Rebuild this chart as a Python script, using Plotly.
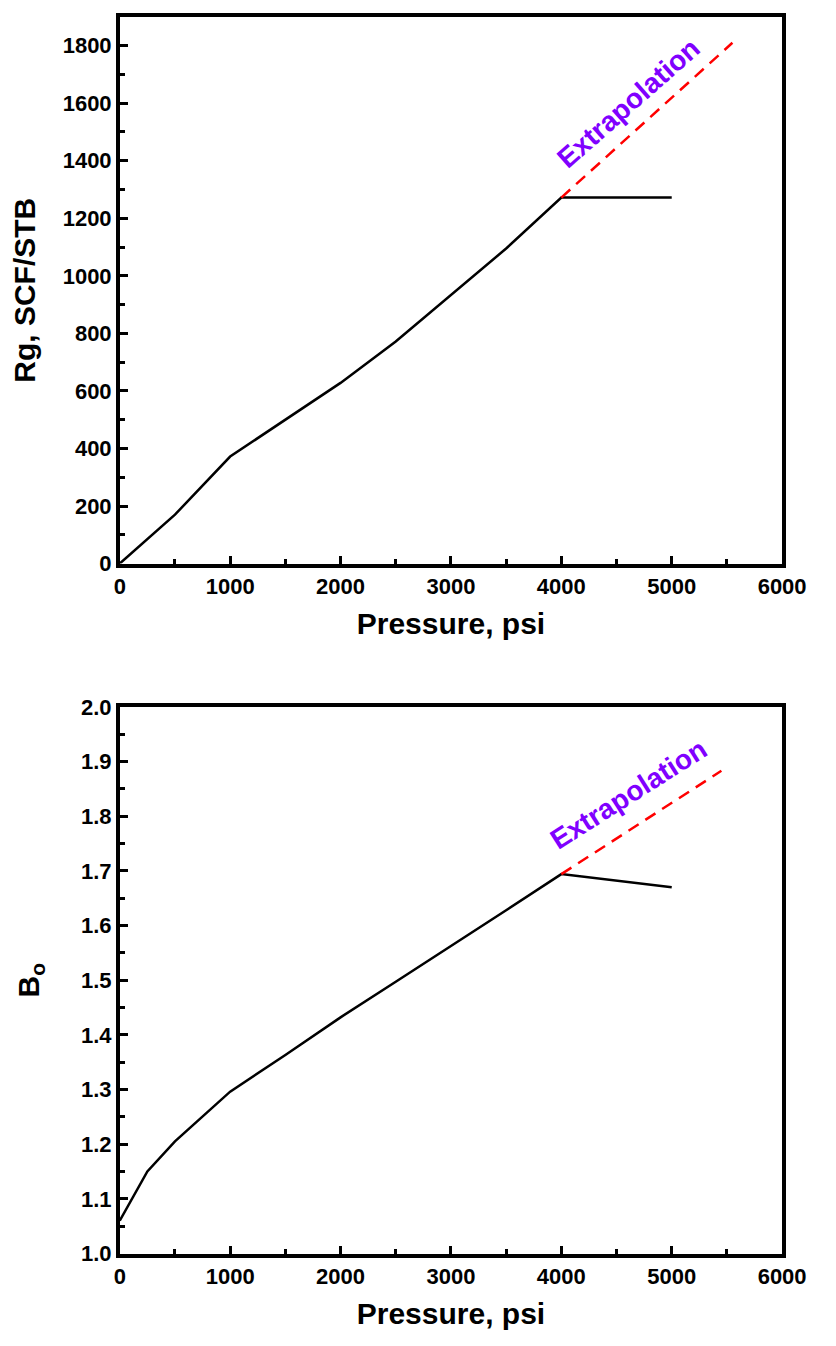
import plotly.graph_objects as go

# ---------------- data ----------------
pressure_rg = [0, 500, 1000, 1500, 2000, 2500, 3000, 3500, 4000, 5000]
rg_values = [0, 170, 372, 500, 628, 772, 932, 1095, 1272, 1272]
extrap_rg_pressure = [4000, 5550]
extrap_rg_values = [1272, 1810]

pressure_bo = [0, 250, 500, 1000, 1500, 2000, 2500, 3000, 3500, 4000, 5000]
bo_values = [1.060, 1.150, 1.205, 1.296, 1.363, 1.432, 1.497, 1.562, 1.628, 1.694, 1.670]
extrap_bo_pressure = [4000, 5450]
extrap_bo_values = [1.694, 1.883]

x_tick_vals = [0, 1000, 2000, 3000, 4000, 5000, 6000]
rg_tick_vals = [0, 200, 400, 600, 800, 1000, 1200, 1400, 1600, 1800]
bo_tick_vals = [1.0, 1.1, 1.2, 1.3, 1.4, 1.5, 1.6, 1.7, 1.8, 1.9, 2.0]

W, H = 836, 1346
FONT = "Liberation Sans, Arial, sans-serif"

def px_x(v):
    return v / W

def px_y(v):
    return 1 - v / H

fig = go.Figure()

fig.add_trace(go.Scatter(x=pressure_rg, y=rg_values, mode="lines",
                         line=dict(color="black", width=2.5),
                         xaxis="x", yaxis="y", showlegend=False))
fig.add_trace(go.Scatter(x=extrap_rg_pressure, y=extrap_rg_values, mode="lines",
                         line=dict(color="#FF0000", width=2.5, dash="12px,8px"),
                         xaxis="x", yaxis="y", showlegend=False))
fig.add_trace(go.Scatter(x=pressure_bo, y=bo_values, mode="lines",
                         line=dict(color="black", width=2.5),
                         xaxis="x2", yaxis="y2", showlegend=False))
fig.add_trace(go.Scatter(x=extrap_bo_pressure, y=extrap_bo_values, mode="lines",
                         line=dict(color="#FF0000", width=2.5, dash="12px,8px"),
                         xaxis="x2", yaxis="y2", showlegend=False))

tickfont = dict(family=FONT, size=22, color="black", weight="bold")
titlefont = dict(family=FONT, size=30, color="black", weight="bold")

common_x = dict(range=[0, 6000], tickvals=x_tick_vals, ticks="inside", ticklen=8,
                tickwidth=3, tickcolor="black", showline=True, linewidth=3.5,
                linecolor="black", mirror=True, showgrid=False, zeroline=False,
                tickfont=tickfont,
                minor=dict(dtick=500, ticks="inside", ticklen=5, tickwidth=3,
                           tickcolor="black", showgrid=False),
                domain=[px_x(118), px_x(805)])
common_y = dict(ticks="inside", ticklen=8, tickwidth=3, tickcolor="black",
                showline=True, linewidth=3.5, linecolor="black", mirror=True,
                showgrid=False, zeroline=False, tickfont=tickfont)

fig.update_layout(
    width=W, height=H,
    margin=dict(l=0, r=0, t=0, b=0),
    paper_bgcolor="white", plot_bgcolor="white",
    xaxis=dict(common_x, anchor="y",
               title=dict(text="Pressure, psi", font=titlefont, standoff=16)),
    yaxis=dict(common_y, range=[0, 1900], tickvals=rg_tick_vals,
               minor=dict(dtick=100, ticks="inside", ticklen=5, tickwidth=3,
                          tickcolor="black", showgrid=False),
               domain=[px_y(562), px_y(5)], anchor="x",
               title=dict(text="Rg, SCF/STB", font=titlefont, standoff=19)),
    xaxis2=dict(common_x, anchor="y2",
                title=dict(text="Pressure, psi", font=titlefont, standoff=16)),
    yaxis2=dict(common_y, range=[1.0, 2.0], tickvals=bo_tick_vals,
                tickformat=".1f",
                minor=dict(dtick=0.05, ticks="inside", ticklen=5, tickwidth=3,
                           tickcolor="black", showgrid=False),
                domain=[px_y(1265), px_y(708)], anchor="x2",
                title=dict(text="B<sub>o</sub>", font=titlefont, standoff=34)),
    annotations=[
        dict(text="Extrapolation", x=4605, y=1600, xref="x", yref="y",
             showarrow=False, textangle=-41.5,
             font=dict(family=FONT, size=28, color="#8000FF", weight="bold")),
        dict(text="Extrapolation", x=4605, y=1.84, xref="x2", yref="y2",
             showarrow=False, textangle=-32.5,
             font=dict(family=FONT, size=28, color="#8000FF", weight="bold")),
    ],
)

fig.write_html("out.html")
